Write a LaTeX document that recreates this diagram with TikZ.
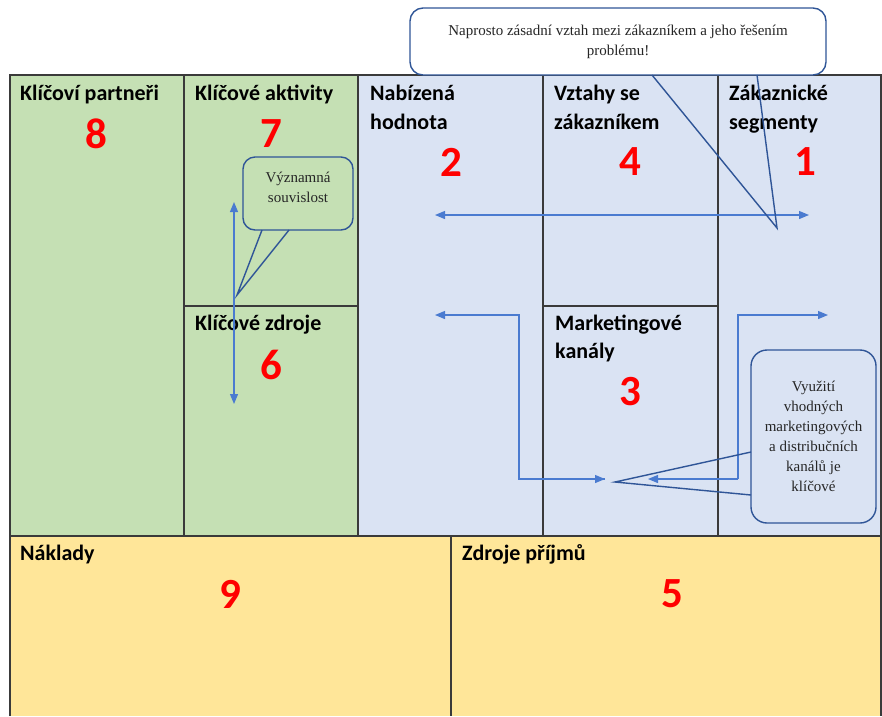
\documentclass[tikz,border=0pt]{standalone}
\usepackage{fontspec}
\setmainfont{Carlito}
\newfontfamily\callfont{Liberation Serif}
\usetikzlibrary{arrows.meta}
\definecolor{kgreen}{HTML}{C5E0B4}
\definecolor{kblue}{HTML}{DAE3F3}
\definecolor{korange}{HTML}{FFE699}
\definecolor{kline}{HTML}{3A3A3A}
\definecolor{karrow}{HTML}{4A7BD0}
\definecolor{kcall}{HTML}{2F5597}
\definecolor{knum}{HTML}{FF0000}
\begin{document}
\begin{tikzpicture}[x=1pt,y=-1pt,
  gridline/.style={draw=kline,line width=1.3pt},
  head/.style={anchor=base west,inner sep=0pt,font=\fontsize{22}{26}\selectfont\bfseries},
  num/.style={inner sep=0pt,text=knum,font=\fontsize{43}{46}\selectfont\bfseries},
  flow/.style={draw=karrow,line width=1.2pt,-{Triangle[width=8pt,length=10pt]}},
  flowboth/.style={draw=karrow,line width=1.2pt,{Triangle[width=8pt,length=10pt]}-{Triangle[width=8pt,length=10pt]}},
  callbox/.style={draw=kcall,line width=1.4pt,rounded corners=13pt,inner sep=0pt,
    align=center,font=\callfont\fontsize{15}{20}\selectfont,text=black!85},
  calltext/.style={inner sep=0pt,align=center,font=\callfont\fontsize{15}{20}\selectfont,text=black!85},
  tail/.style={draw=kcall,line width=1.4pt}]
\useasboundingbox (0,0) rectangle (882,716);
% backgrounds
\fill[kgreen] (10,75) rectangle (358,536);
\fill[kblue] (358,75) rectangle (882,536);
\fill[korange] (10,536) rectangle (882,716);
% grid
\draw[gridline] (10,716) -- (10,75) -- (881,75) -- (881,716);
\draw[gridline] (184,75) -- (184,536);
\draw[gridline] (358,75) -- (358,536);
\draw[gridline] (543,75) -- (543,536);
\draw[gridline] (718,75) -- (718,536);
\draw[gridline] (184,306) -- (358,306);
\draw[gridline] (543,306) -- (718,306);
\draw[gridline] (10,536) -- (881,536);
\draw[gridline] (451,536) -- (451,716);
% headings
\node[head] (hkp) at (20,100) {Klíčoví partneři};
\node[head] (hka) at (195,100) {Klíčové aktivity};
\node[head] (hnh1) at (370,100) {Nabízená};
\node[head] (hnh2) at (370,129) {hodnota};
\node[head] (hvz1) at (554,100) {Vztahy se};
\node[head] (hvz2) at (554,129) {zákazníkem};
\node[head] (hzs1) at (729,100) {Zákaznické};
\node[head] (hzs2) at (729,129) {segmenty};
\node[head] (hkz) at (195,330) {Klíčové zdroje};
\node[head] (hmk1) at (555,330) {Marketingové};
\node[head] (hmk2) at (555,358) {kanály};
\node[head] (hnk) at (20,560) {Náklady};
\node[head] (hzp) at (462,560) {Zdroje příjmů};
% numbers
\node[num] (n8) at (96,134) {8};
\node[num] (n7) at (271,134) {7};
\node[num] (n2) at (451,162) {2};
\node[num] (n4) at (630,162) {4};
\node[num] (n1) at (805,162) {1};
\node[num] (n6) at (271,365) {6};
\node[num] (n3) at (630,392) {3};
\node[num] (n9) at (230,594) {9};
\node[num] (n5) at (672,594) {5};
% arrows
\coordinate (a2) at (435,215);
\coordinate (a1) at (809,215);
\draw[flowboth] (a2) -- (a1);
\coordinate (a7) at (234,202);
\coordinate (a6) at (234,404);
\draw[flowboth] (a7) -- (a6);
\coordinate (l1) at (519,479);
\coordinate (l2) at (605,479);
\coordinate (l3) at (435,315);
\draw[flow] (l2) -- (l1) |- (l3);
\draw[flow] (l1) -- (l2);
\coordinate (r1) at (648,479);
\coordinate (r2) at (738,479);
\coordinate (r3) at (828,315);
\draw[flow] (r2) -- (r1);
\draw[flow] (r2) |- (r3);
% callout top
\node[callbox,fill=white,minimum width=416pt,minimum height=67pt] (ctop) at (618,41.5)
  {Naprosto zásadní vztah mezi zákazníkem a jeho řešením\\problému!};
\coordinate (ptop) at (777,228);
\draw[tail] (652,75) -- (ptop) -- (757,75);
% callout activities/resources
\node[callbox,minimum width=110pt,minimum height=73pt,rounded corners=12pt] (cvs) at (298,193.5) {};
\node[calltext] (tvs) at (298,187) {Významná\\souvislost};
\coordinate (pvs) at (237,295);
\draw[tail] (262,230) -- (pvs) -- (289,230);
% callout channels
\node[callbox,minimum width=125pt,minimum height=173pt,rounded corners=16pt] (cmk) at (813.5,436.5)
  {Využití\\vhodných\\marketingových\\a distribučních\\kanálů je\\klíčové};
\coordinate (pmk) at (615,482);
\draw[tail] (751,452) -- (pmk) -- (751,495);
\end{tikzpicture}
\end{document}
